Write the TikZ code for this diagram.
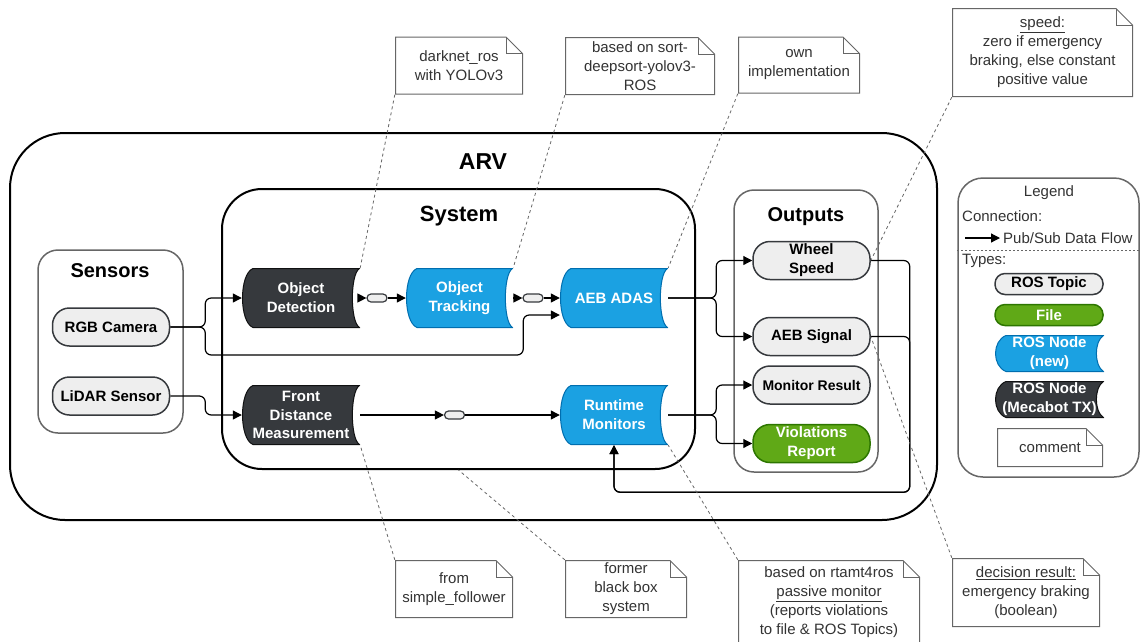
\documentclass[tikz,border=0pt]{standalone}
\usepackage{fontspec}
\setmainfont{Liberation Sans}
\usetikzlibrary{arrows.meta, positioning, calc}
\definecolor{rosdark}{HTML}{36393D}
\definecolor{rosblue}{HTML}{1BA1E2}
\definecolor{rosblueline}{HTML}{006EAF}
\definecolor{topicfill}{HTML}{EEEEEE}
\definecolor{filegreen}{HTML}{60A917}
\definecolor{filegreenline}{HTML}{2D7600}
\definecolor{boxgray}{HTML}{666666}
\definecolor{notetext}{HTML}{333333}

\begin{document}
\begin{tikzpicture}[x=1pt, y=-1pt,
  every node/.style={font=\fontsize{15}{19}\selectfont, align=center, inner sep=0pt},
  outerbox/.style={draw=black, line width=2pt, rounded corners=#1},
  groupbox/.style={draw=boxgray, line width=1.5pt, rounded corners=#1},
  heading/.style={font=\fontsize{#1}{#1}\selectfont\bfseries},
  topic/.style={draw=rosdark, fill=topicfill, line width=1.5pt, rounded corners=17pt,
                minimum width=117pt, minimum height=38pt, font=\fontsize{15}{19}\selectfont\bfseries},
  minitopic/.style={draw=rosdark, fill=topicfill, line width=1.2pt, rounded corners=4pt,
                    minimum width=20pt, minimum height=8pt},
  file/.style={topic, draw=filegreenline, fill=filegreen, text=white},
  rosshape/.style 2 args={text=white, minimum height=60pt, font=\fontsize{15}{19}\selectfont\bfseries,
    path picture={
      \filldraw[fill=#1, draw=#2, line width=1pt]
        ([shift={(11pt,-0.5pt)}]path picture bounding box.north west)
        -- ([shift={(-0.5pt,-0.5pt)}]path picture bounding box.north east)
        .. controls ([shift={(-10pt,-6pt)}]path picture bounding box.north east)
           and ([shift={(-10pt,6pt)}]path picture bounding box.south east)
        .. ([shift={(-0.5pt,0.5pt)}]path picture bounding box.south east)
        -- ([shift={(11pt,0.5pt)}]path picture bounding box.south west)
        .. controls ([shift={(-3pt,6pt)}]path picture bounding box.south west)
           and ([shift={(-3pt,-6pt)}]path picture bounding box.north west)
        .. cycle;
    }},
  rosnew/.style={rosshape={rosblue}{rosblueline}},
  rosold/.style={rosshape={rosdark}{black!70!rosdark}},
  note/.style={text=notetext,
    path picture={
      \filldraw[fill=white, draw=boxgray, line width=1pt]
        ([shift={(0.5pt,-0.5pt)}]path picture bounding box.north west)
        -- ([shift={(-17pt,-0.5pt)}]path picture bounding box.north east)
        -- ([shift={(-0.5pt,-17pt)}]path picture bounding box.north east)
        -- ([shift={(-0.5pt,0.5pt)}]path picture bounding box.south east)
        -- ([shift={(0.5pt,0.5pt)}]path picture bounding box.south west) -- cycle;
      \draw[boxgray, line width=1pt]
        ([shift={(-17pt,-0.5pt)}]path picture bounding box.north east)
        |- ([shift={(-0.5pt,-17pt)}]path picture bounding box.north east);
    }},
  flow/.style={-{Triangle[length=9pt,width=9pt]}, line width=1.2pt, rounded corners=6pt},
  link/.style={draw=boxgray, line width=0.8pt, dash pattern=on 3pt off 3pt}
]
\useasboundingbox (0,0) rectangle (1140,641);

% containers
\node[outerbox=55pt, minimum width=927pt, minimum height=387pt] (arv) at (473.5,326.5) {};
\node[outerbox=40pt, minimum width=473pt, minimum height=280pt] (sys) at (458.5,329) {};
\node[groupbox=20pt, minimum width=145pt, minimum height=183pt] (sensors) at (110.5,341.5) {};
\node[groupbox=20pt, minimum width=144pt, minimum height=282pt] (outputs) at (806,331) {};
\node[groupbox=25pt, minimum width=181pt, minimum height=299pt] (legend) at (1048.5,327.5) {};

\node[heading=23] (arvlabel) at (483,162) {ARV};
\node[heading=22] (syslabel) at (459,216) {System};
\node[heading=20] (senslabel) at (110,271) {Sensors};
\node[heading=20] (outlabel) at (806,217) {Outputs};

% sensors
\node[topic] (rgb) at (111,327) {RGB Camera};
\node[topic] (lidar) at (111,396) {LiDAR Sensor};

% ros nodes
\node[rosold, minimum width=118pt] (det) at (301,298) {Object\\Detection};
\node[rosnew, minimum width=107pt] (trk) at (459.5,298) {Object\\Tracking};
\node[rosnew, minimum width=108pt] (adas) at (614,298) {AEB ADAS};
\node[rosold, minimum width=118pt, font=\fontsize{15}{18.5}\selectfont\bfseries] (fdm) at (301,415) {Front\\Distance\\Measurement};
\node[rosnew, minimum width=108pt] (rtm) at (614,415) {Runtime\\Monitors};

\node[minitopic] (t1) at (377,298) {};
\node[minitopic] (t2) at (533,298) {};
\node[minitopic] (t3) at (454.5,415) {};

% outputs
\node[topic] (wheel) at (811.5,260.5) {Wheel\\Speed};
\node[topic] (aebsig) at (811.5,336.5) {AEB Signal};
\node[topic, font=\fontsize{14}{18}\selectfont\bfseries] (monres) at (811.5,385) {Monitor Result};
\node[file] (viol) at (811.5,443.5) {Violations\\Report};

% legend
\node[text=notetext] (legtitle) at (1049,193) {Legend};
\node[text=notetext, anchor=west] (legconn) at (962,216) {Connection:};
\coordinate (legstart) at (965,238);
\node[text=notetext, anchor=west, inner xsep=3pt] (legflow) at (1000,238) {Pub/Sub Data Flow};
\draw[link, dash pattern=on 2pt off 2pt] ([yshift=-73pt]legend.north west) -- ([yshift=-73pt]legend.north east);
\node[text=notetext, anchor=west] (legtypes) at (962,261) {Types:};
\node[topic, minimum width=108pt, minimum height=21pt, rounded corners=10pt] (legtopic) at (1049,284) {ROS Topic};
\node[file, minimum width=108pt, minimum height=21pt, rounded corners=10pt] (legfile) at (1049,315) {File};
\node[rosnew, minimum width=109pt, minimum height=37pt] (legnew) at (1049.5,353.5) {ROS Node\\(new)};
\node[rosold, minimum width=109pt, minimum height=37pt] (legold) at (1049.5,399.5) {ROS Node\\(Mecabot TX)};
\node[note, minimum width=106pt, minimum height=39pt] (legnote) at (1050,447.5) {comment};

% comments
\node[note, minimum width=128pt, minimum height=58pt] (n1) at (459,65.5) {darknet\_ros\\with YOLOv3};
\node[note, minimum width=150pt, minimum height=58pt] (n2) at (640,66) {based on sort-\\deepsort-yolov3-\\ROS};
\node[note, minimum width=122pt, minimum height=57pt] (n3) at (799,65) {own\\implementation};
\node[note, minimum width=181pt, minimum height=89pt] (n4) at (1042.5,52.5) {\underline{speed:}\\zero if emergency\\braking, else constant\\positive value};
\node[note, minimum width=118pt, minimum height=58pt] (n5) at (454,589) {from\\simple\_follower};
\node[note, minimum width=122pt, minimum height=58pt] (n6) at (626,589) {former\\black box\\system};
\node[note, minimum width=182pt, minimum height=84pt] (n7) at (829,602) {based on rtamt4ros\\\underline{passive monitor}\\(reports violations\\to file \& ROS Topics)};
\node[note, minimum width=148pt, minimum height=69pt] (n8) at (1026,592.5) {\underline{decision result:}\\emergency braking\\(boolean)};

% data flow
\draw[flow] (rgb.east) -- ++(35,0) |- (det.west);
\draw[flow] (rgb.east) -- ++(35,0) -- ++(0,28) -- ++(318,0) |- ([yshift=-17pt]adas.west);
\draw[flow] (lidar.east) -- ++(35,0) |- (fdm.west);
\draw[flow] (det.east) -- (t1.west);
\draw[flow] (t1.east) -- (trk.west);
\draw[flow] (trk.east) -- (t2.west);
\draw[flow] (t2.east) -- (adas.west);
\draw[flow] (adas.east) -- ++(48,0) |- (wheel.west);
\draw[flow] (adas.east) -- ++(48,0) |- (aebsig.west);
\draw[flow] (fdm.east) -- (t3.west);
\draw[flow] (t3.east) -- (rtm.west);
\draw[flow] (rtm.east) -- ++(48,0) |- (monres.west);
\draw[flow] (rtm.east) -- ++(48,0) |- (viol.west);
\draw[flow] (wheel.east) -- ++(39,0) |- ([yshift=-47pt]rtm.south) -- (rtm.south);
\draw[flow] (aebsig.east) -- ++(39,0) |- ([yshift=-47pt]rtm.south) -- (rtm.south);
\draw[flow] (legstart) -- (legflow.west);

% comment links
\draw[link] (n1.south west) -- (det.north east);
\draw[link] (n2.south west) -- (trk.north east);
\draw[link] (n3.south west) -- (adas.north east);
\draw[link] (n4.south west) -- (wheel.east);
\draw[link] (n5.north west) -- (fdm.south east);
\draw[link] (n6.north west) -- (sys.south);
\draw[link] (n7.north west) -- (rtm.south east);
\draw[link] (n8.north west) -- (aebsig.east);
\end{tikzpicture}
\end{document}
